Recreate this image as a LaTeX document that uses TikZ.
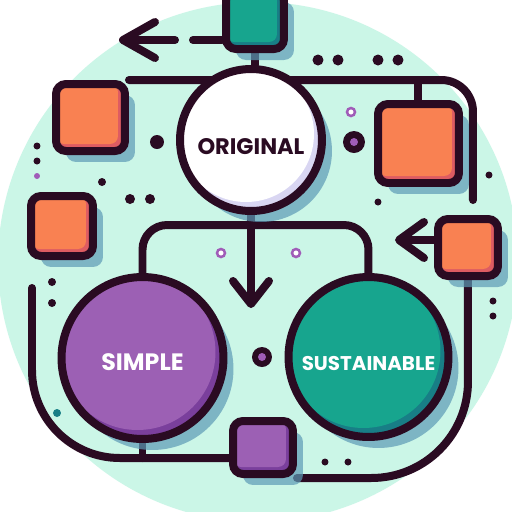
\documentclass[tikz,border=0pt]{standalone}
\usepackage{fontspec}
\setmainfont{Poppins}
\usetikzlibrary{arrows.meta,shadows}

\definecolor{mint}{HTML}{CBF6E7}
\definecolor{ink}{HTML}{2A0B22}
\definecolor{shade}{HTML}{5C9AB6}
\definecolor{coral}{HTML}{F98152}
\definecolor{coraldk}{HTML}{DE5C62}
\definecolor{plum}{HTML}{9C60B4}
\definecolor{plumdk}{HTML}{7A3F9C}
\definecolor{jade}{HTML}{17A58E}
\definecolor{jadedk}{HTML}{187E86}
\definecolor{lilac}{HTML}{D9D6F2}
\definecolor{ringc}{HTML}{A05CB8}

\pgfdeclarelayer{backdrop}
\pgfdeclarelayer{wires}
\pgfsetlayers{backdrop,wires,main}

\tikzset{
  wire/.style={draw=ink, line width=0.16cm, line cap=round, line join=round},
  barb/.style={-{Straight Barb[length=#1, width=0.72cm, round]}},
  bubble/.style n args={3}{circle, draw=ink, line width=0.16cm, minimum size=#1, inner sep=0pt, fill=#2,
    drop shadow={shadow xshift=0.2cm, shadow yshift=-0.22cm, fill=shade, opacity=0.7},
    path picture={\fill[#3] ([shift={(-5,-6)}]path picture bounding box.center) circle[radius=#1/2-0.06cm];}},
  tile/.style n args={4}{rectangle, rounded corners=0.2cm, draw=ink, line width=0.16cm,
    minimum width=#1, minimum height=#2, inner sep=0pt, fill=#3,
    drop shadow={shadow xshift=0.2cm, shadow yshift=-0.22cm, fill=shade, opacity=0.7},
    path picture={\fill[#4, rounded corners=0.16cm] (path picture bounding box.north west) rectangle ([shift={(-7,-7)}]path picture bounding box.south east);}},
}

\begin{document}
\begin{tikzpicture}[x=0.02cm, y=-0.02cm]
    \useasboundingbox (0,0) rectangle (512,512);

    \begin{pgfonlayer}{backdrop}
        \fill[white] (0,0) rectangle (512,512);
        \fill[mint] (258,262) circle (260);
    \end{pgfonlayer}

    %circles
    \node[bubble={2.84cm}{lilac}{white}, text=ink, text height=17pt, font=\bfseries\fontsize{12.8pt}{14pt}\selectfont] (orig) at (251,140) {ORIGINAL};
    \node[bubble={3.24cm}{plumdk}{plum}, text=white, text height=14pt, font=\bfseries\fontsize{13.5pt}{15pt}\selectfont] (simple) at (142.5,358) {SIMPLE};
    \node[bubble={3.2cm}{jadedk}{jade}, text=white, text height=15pt, font=\bfseries\fontsize{11.3pt}{13pt}\selectfont] (sust) at (368.5,357) {SUSTAINABLE};

    %squares
    \node[tile={1.16cm}{1.16cm}{jadedk}{jade}] (teal) at (255,20) {};
    \node[tile={1.38cm}{1.34cm}{coraldk}{coral}] (otl) at (90.5,117.5) {};
    \node[tile={1.24cm}{1.2cm}{coraldk}{coral}] (oml) at (62,226) {};
    \node[tile={1.62cm}{1.58cm}{coraldk}{coral}] (orr) at (418.5,143.5) {};
    \node[tile={1.2cm}{1.14cm}{coraldk}{coral}] (obr) at (468,247.5) {};
    \node[tile={1.2cm}{1.06cm}{plumdk}{plum}] (ps) at (263,447.5) {};

    %loose ends
    \coordinate (tip1) at (119,40);
    \coordinate (gapa) at (193,40);
    \coordinate (gapb) at (175,40);
    \coordinate (tip2) at (251,308);
    \coordinate (tip3) at (395,240);
    \coordinate (e1) at (473,200);
    \coordinate (brk) at (0,225);
    \coordinate (l1) at (32,288);
    \coordinate (bl) at (32,458);

    \begin{pgfonlayer}{wires}
        %top
        \draw[wire] (teal.south) -- (teal.south |- orig.north);
        \draw[wire] (teal.west |- tip1) -- (gapa);
        \draw[wire, barb=0.64cm] (gapb) -- (tip1);
        \draw[wire, rounded corners=18] (otl.north east) -- (e1 |- otl.north east) -- (e1);
        \draw[wire] (orr.north) -- (orr.north |- otl.north east);
        %middle
        \draw[wire, rounded corners=14] (simple.north) -- (simple.north |- brk) -- (sust.north |- brk) -- (sust.north);
        \draw[wire, barb=0.46cm] (orig.south) -- (tip2);
        \draw[wire, barb=0.5cm] (obr.west |- tip3) -- (tip3);
        %bottom
        \draw[wire, rounded corners=50] (l1) -- (bl) -- (ps.west |- bl);
        \draw[wire] (simple.south) -- (simple.south |- bl);
        \draw[wire, rounded corners=55] (ps.south east) -- (ps.south east -| obr.south) -- (obr.south);
    \end{pgfonlayer}

    %dots
    \foreach \x/\y/\r in {37/146/3.5, 37/161/3.5, 102/182/4, 130/199/5, 150/199/5, 157/142/7,
        318/60/5.5, 338/60/5.5, 378/60/5.5, 398/60/5.5, 489/175/3.5, 378/202/3.5,
        52/282/4, 52/303/4, 493/301/3.5, 493/316/3.5, 325/462/3.5, 348/462/3.5}
        \fill[ink] (\x,\y) circle (\r);
    \fill[ringc] (37,176) circle (3);
    \fill[jadedk] (57,413) circle (4);
    \foreach \x/\y in {221/253, 296/253, 351/112}
        \draw[ringc, line width=0.05cm, fill=white] (\x,\y) circle (4);
    \fill[ink] (354,142) circle (11);
    \fill[ringc] (354,142) circle (4);
    \fill[ink] (262,357) circle (10);
    \fill[ringc] (262,357) circle (4);
\end{tikzpicture}
\end{document}
